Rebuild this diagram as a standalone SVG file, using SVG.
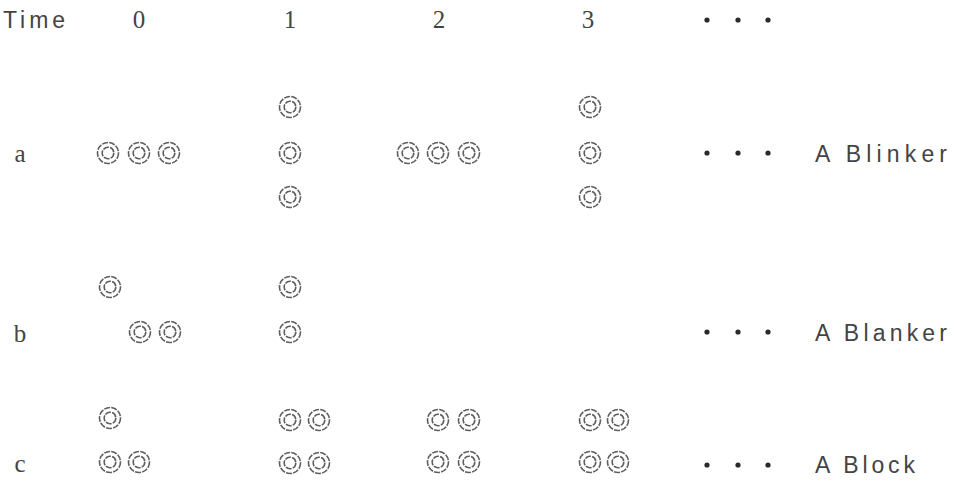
<svg xmlns="http://www.w3.org/2000/svg" xmlns:xlink="http://www.w3.org/1999/xlink" width="954" height="480" viewBox="0 0 954 480">
<style>
.c{fill:none;stroke:#5e5e5e;stroke-width:1.6;stroke-dasharray:6 1.2}
.s{font-family:"Liberation Sans",Arial,sans-serif;font-size:23px;fill:#444}
.r{font-family:"Liberation Serif","Times New Roman",serif;font-size:25px;fill:#444;text-anchor:middle}
.d{fill:#2a2a2a}
</style>
<defs>
<g id="cell"><circle class="c" r="10.5"/><circle class="c" r="5.8"/></g>
<g id="dots"><circle class="d" cx="0" r="2.6"/><circle class="d" cx="31" r="2.6"/><circle class="d" cx="61" r="2.6"/></g>
</defs>
<rect width="954" height="480" fill="#fff"/>
<g id="header">
<text class="s" x="3" y="28" font-size="21" textLength="62" lengthAdjust="spacing">Time</text>
<text class="r" x="139" y="28">0</text>
<text class="r" x="290" y="28">1</text>
<text class="r" x="439" y="28">2</text>
<text class="r" x="588" y="28">3</text>
<use xlink:href="#dots" x="707" y="20"/>
</g>
<g id="row-labels">
<text class="r" x="20" y="162">a</text>
<text class="r" x="20" y="342">b</text>
<text class="r" x="20" y="472">c</text>
</g>
<g id="a0"><use xlink:href="#cell" x="108" y="153"/><use xlink:href="#cell" x="139" y="153"/><use xlink:href="#cell" x="169" y="153"/></g>
<g id="a1"><use xlink:href="#cell" x="290" y="107"/><use xlink:href="#cell" x="290" y="153"/><use xlink:href="#cell" x="290" y="197"/></g>
<g id="a2"><use xlink:href="#cell" x="408" y="153"/><use xlink:href="#cell" x="438" y="153"/><use xlink:href="#cell" x="469" y="153"/></g>
<g id="a3"><use xlink:href="#cell" x="590" y="107"/><use xlink:href="#cell" x="590" y="153"/><use xlink:href="#cell" x="590" y="197"/></g>
<g id="a-end"><use xlink:href="#dots" x="707" y="153"/><text class="s" x="815" y="162" textLength="132" lengthAdjust="spacing">A Blinker</text></g>
<g id="b0"><use xlink:href="#cell" x="110" y="287"/><use xlink:href="#cell" x="140" y="332"/><use xlink:href="#cell" x="170" y="332"/></g>
<g id="b1"><use xlink:href="#cell" x="290" y="287"/><use xlink:href="#cell" x="290" y="332"/></g>
<g id="b-end"><use xlink:href="#dots" x="707" y="332"/><text class="s" x="815" y="341" textLength="132" lengthAdjust="spacing">A Blanker</text></g>
<g id="c0"><use xlink:href="#cell" x="110" y="418"/><use xlink:href="#cell" x="110" y="462"/><use xlink:href="#cell" x="139" y="462"/></g>
<g id="c1"><use xlink:href="#cell" x="290" y="420"/><use xlink:href="#cell" x="319" y="420"/><use xlink:href="#cell" x="290" y="463"/><use xlink:href="#cell" x="319" y="463"/></g>
<g id="c2"><use xlink:href="#cell" x="438" y="420"/><use xlink:href="#cell" x="469" y="420"/><use xlink:href="#cell" x="438" y="462"/><use xlink:href="#cell" x="469" y="462"/></g>
<g id="c3"><use xlink:href="#cell" x="590" y="420"/><use xlink:href="#cell" x="618" y="420"/><use xlink:href="#cell" x="590" y="462"/><use xlink:href="#cell" x="618" y="462"/></g>
<g id="c-end"><use xlink:href="#dots" x="707" y="465"/><text class="s" x="815" y="473" textLength="100" lengthAdjust="spacing">A Block</text></g>
<g id="connectors"/>
</svg>
